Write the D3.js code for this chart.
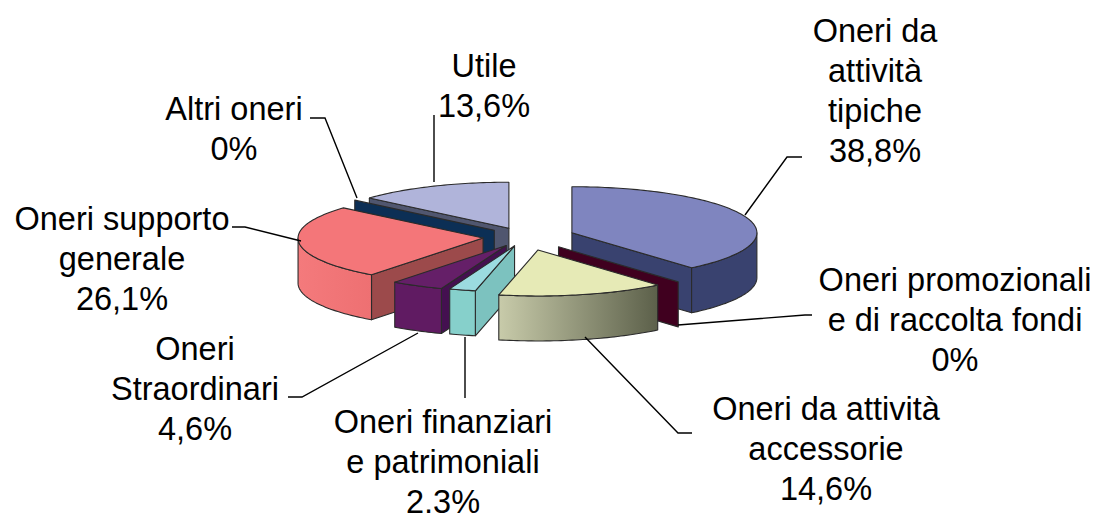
<!DOCTYPE html>
<html lang="it">
<head>
<meta charset="UTF-8">
<title>Oneri</title>
<script src="https://cdn.jsdelivr.net/npm/d3@7"></script>
<style>
  html, body { margin: 0; padding: 0; background: #fff; }
  svg { display: block; }
  text { font-family: "Liberation Sans", Arial, sans-serif; font-size: 32.5px; fill: #000; text-anchor: middle; }
</style>
</head>
<body>
<script>
// values, clockwise from 12 o'clock
var categories = [
  ["Oneri da", "attività", "tipiche"],
  ["Oneri promozionali", "e di raccolta fondi"],
  ["Oneri da attività", "accessorie"],
  ["Oneri finanziari", "e patrimoniali"],
  ["Oneri", "Straordinari"],
  ["Oneri supporto", "generale"],
  ["Altri oneri"],
  ["Utile"]
];
var values = [38.8, 0, 14.6, 2.3, 4.6, 26.1, 0, 13.6];

// slice look and layout
var topColors  = ["#7f85bf", "#40001f", "#e6eab6", "#9bdbe0", "#651f68", "#f47679", "#0c2f55", "#b0b4da"];
var wallColors = ["#39426f", "#40001f", "#b9bc98", "#7cc2bf", "#441050", "#9c4a4b", "#0c2f55", "#50566f"];
var rimStops = [
  ["#39426f", "#39426f"], ["#40001f", "#40001f"], ["#c8cbaa", "#5c604a"], ["#86d0cb", "#86d0cb"],
  ["#601b62", "#601b62"], ["#f47a7c", "#ee7072"], ["#0c2f55", "#0c2f55"], ["#50566f", "#50566f"]
];
var explode = [0.27, 0.28, 0.29, 0.2, 0.21, 0.228, 0.22, 0.21];
var drawOrder = [7, 6, 5, 4, 3, 0, 1, 2];
var labelX = [875, 955, 826, 443, 195, 122, 234, 484];
var labelY = [42, 291, 420, 433, 360, 230, 120, 77];
var leaders = [
  [[745, 215], [787, 157], [802, 157]],
  [[678, 325], [805, 315], [812, 315]],
  [[585, 337], [678, 433], [692, 433]],
  [[465, 337], [465, 398]],
  [[418, 333], [302, 397], [288, 397]],
  [[301, 241], [245, 227], [232, 227]],
  [[357, 198], [325, 118], [310, 118]],
  [[434, 182], [434, 115]]
];

var width = 1106, height = 513, cx = 525, cy = 237, rx = 185, ry = 46, depth = 45;
var lineGap = 40;

var x = d3.scaleLinear().domain([-1, 1]).range([cx - rx, cx + rx]);
var y = d3.scaleLinear().domain([-1, 1]).range([cy - ry, cy + ry]);

var svg = d3.select("body").append("svg").attr("width", width).attr("height", height);
var defs = svg.append("defs");

var arcs = d3.pie().sort(null).value(function(d) { return d; })(values);
var line = d3.line();
var TAU = Math.PI * 2, QUARTER = Math.PI / 2;

rimStops.forEach(function(s, i) {
  var g = defs.append("linearGradient").attr("id", "rim" + i);
  g.append("stop").attr("offset", "0%").attr("stop-color", s[0]);
  g.append("stop").attr("offset", "100%").attr("stop-color", s[1]);
});

drawOrder.forEach(function(i) {
  var a = arcs[i];
  var mid = (a.startAngle + a.endAngle) / 2;
  var ox = explode[i] * Math.sin(mid), oy = -explode[i] * Math.cos(mid);
  var pt = function(ang, r, drop) {
    return [x(ox + r * Math.sin(ang)), y(oy - r * Math.cos(ang)) + (drop || 0)];
  };
  var sweep = function(a0, a1, drop) {
    var n = Math.max(2, Math.ceil((a1 - a0) / 0.02));
    return d3.range(n + 1).map(function(k) { return pt(a0 + (a1 - a0) * k / n, 1, drop); });
  };
  var wedge = d3.select(svg.node().appendChild(document.createElementNS(d3.namespaces.svg, "g")))
    .attr("stroke", "#2b2b2b").attr("stroke-width", 1.1).attr("stroke-linejoin", "round");

  var cutWall = function(ang) {
    wedge.append("path")
      .attr("d", line([pt(0, 0), pt(ang, 1), pt(ang, 1, depth), pt(0, 0, depth)]) + "Z")
      .attr("fill", wallColors[i]);
  };
  if (a.startAngle >= Math.PI && a.startAngle < TAU) cutWall(a.startAngle);
  if (a.endAngle > 0 && a.endAngle <= Math.PI) cutWall(a.endAngle);

  // outer rim, only the part that faces the viewer
  var a0 = Math.max(a.startAngle, QUARTER), a1 = Math.min(a.endAngle, 3 * QUARTER);
  if (a1 > a0) {
    wedge.append("path")
      .attr("d", line(sweep(a0, a1, 0).concat(sweep(a0, a1, depth).reverse())) + "Z")
      .attr("fill", "url(#rim" + i + ")");
  }
  if (a.endAngle > a.startAngle) {
    wedge.append("path")
      .attr("d", line([pt(0, 0)].concat(sweep(a.startAngle, a.endAngle, 0))) + "Z")
      .attr("fill", topColors[i]);
  }
});

svg.append("g").selectAll("path").data(leaders).join("path")
  .attr("d", function(d) { return line(d); })
  .attr("fill", "none").attr("stroke", "#000").attr("stroke-width", 1.4);

var labels = svg.append("g").selectAll("text").data(categories).join("text")
  .attr("y", function(d, i) { return labelY[i]; });
labels.each(function(d, i) {
  var rows = d.concat([String(values[i]).replace(".", ",") + "%"]);
  d3.select(this).selectAll("tspan").data(rows).join("tspan")
    .attr("x", labelX[i])
    .attr("dy", function(r, k) { return k ? lineGap : 0; })
    .text(function(r) { return r; });
});
</script>
</body>
</html>
